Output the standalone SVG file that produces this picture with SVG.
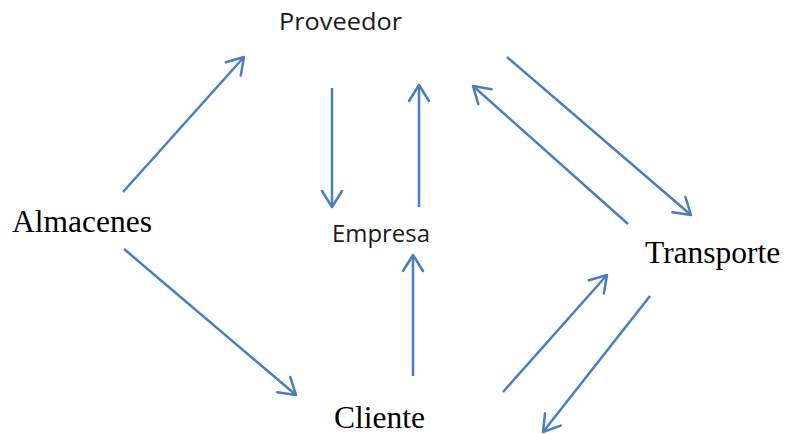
<svg xmlns="http://www.w3.org/2000/svg" width="785" height="435" viewBox="0 0 785 435">
<defs>
<style>
.sans{font-family:"Open Sans","Noto Sans","Liberation Sans",sans-serif;font-size:23px;fill:#1a1a1a}
.serif{font-family:"Liberation Serif","Times New Roman",serif;font-size:31.5px;fill:#000}
.conn line{stroke:#4A7EBB;stroke-width:2.5;fill:none}
</style>
<marker id="arr" markerUnits="userSpaceOnUse" viewBox="-2 -2 22 24" markerWidth="22" markerHeight="24" refX="16" refY="10" orient="auto">
<path d="M0,0 L16,10 L0,20" fill="none" stroke="#4A7EBB" stroke-width="2.5" stroke-linejoin="round" stroke-linecap="round"/>
</marker>
</defs>
<rect width="785" height="435" fill="#fff"/>
<g id="proveedor"><text class="sans" x="279" y="30" textLength="123" lengthAdjust="spacingAndGlyphs">Proveedor</text></g>
<g id="empresa"><text class="sans" x="332" y="242" textLength="98" lengthAdjust="spacingAndGlyphs">Empresa</text></g>
<g id="almacenes"><text class="serif" x="12" y="232">Almacenes</text></g>
<g id="transporte"><text class="serif" x="645" y="263">Transporte</text></g>
<g id="cliente"><text class="serif" x="334" y="428">Cliente</text></g>
<g id="connectors" class="conn">
<line x1="123" y1="192" x2="244" y2="57" marker-end="url(#arr)"/>
<line x1="332" y1="88" x2="332" y2="207" marker-end="url(#arr)"/>
<line x1="419" y1="207" x2="419" y2="85" marker-end="url(#arr)"/>
<line x1="507" y1="57" x2="691" y2="215" marker-end="url(#arr)"/>
<line x1="628" y1="224" x2="473" y2="86" marker-end="url(#arr)"/>
<line x1="124" y1="249" x2="296" y2="395" marker-end="url(#arr)"/>
<line x1="413" y1="376" x2="413" y2="255" marker-end="url(#arr)"/>
<line x1="503" y1="392" x2="607" y2="275" marker-end="url(#arr)"/>
<line x1="650" y1="296" x2="543" y2="432" marker-end="url(#arr)"/>
</g>
</svg>
